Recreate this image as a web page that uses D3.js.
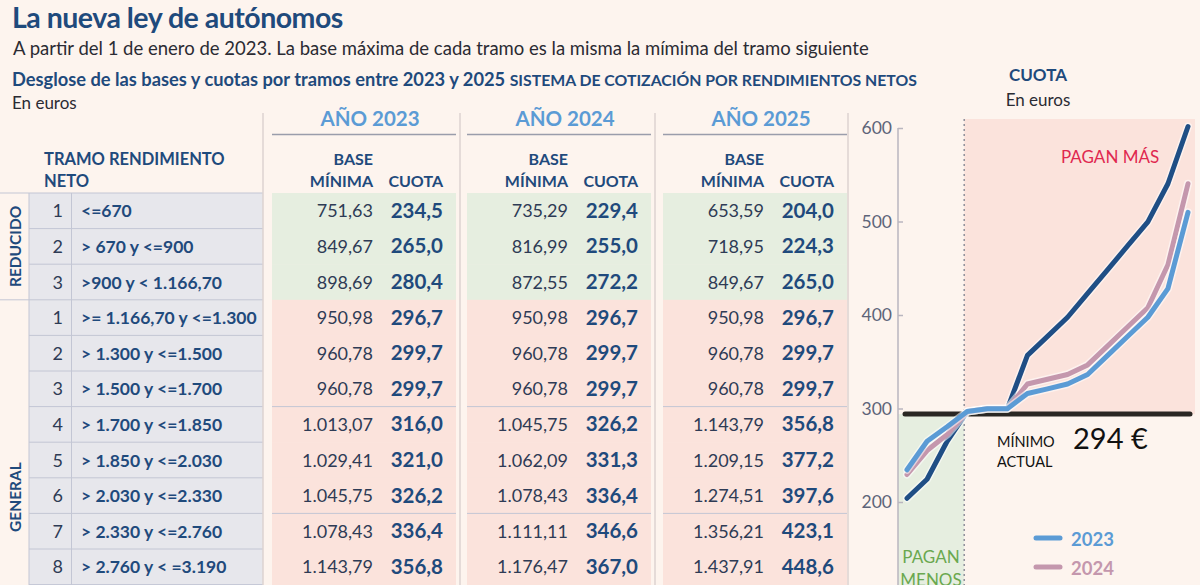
<!DOCTYPE html>
<html>
<head>
<meta charset="utf-8">
<script src="https://cdn.jsdelivr.net/npm/d3@7"></script>
<style>
  html, body { margin: 0; padding: 0; background: #fdf4ee; }
  svg { display: block; font-family: Lato, "Open Sans", sans-serif; }
</style>
</head>
<body>
<svg id="chart" width="1200" height="585"></svg>
<script>
// ---------------- DATA ----------------
const groups = ["REDUCIDO", "GENERAL"];
const tramoGroup = ["REDUCIDO","REDUCIDO","REDUCIDO","GENERAL","GENERAL","GENERAL","GENERAL","GENERAL","GENERAL","GENERAL","GENERAL","GENERAL","GENERAL","GENERAL","GENERAL"];
const tramoNum = [1,2,3,1,2,3,4,5,6,7,8,9,10,11,12];
const tramoLabel = ["<=670", "> 670 y <=900", ">900 y < 1.166,70", ">= 1.166,70 y <=1.300", "> 1.300 y <=1.500",
  "> 1.500 y <=1.700", "> 1.700 y <=1.850", "> 1.850 y <=2.030", "> 2.030 y <=2.330", "> 2.330 y <=2.760",
  "> 2.760 y < =3.190", "> 3.190 y <=3.620", "> 3.620 y <=4.050", "> 4.050 y <=6.000", "> 6.000"];
const years = ["2023", "2024", "2025"];
const base2023 = ["751,63","849,67","898,69","950,98","960,78","960,78","1.013,07","1.029,41","1.045,75","1.078,43","1.143,79","1.209,15","1.274,51","1.372,55","1.633,99"];
const base2024 = ["735,29","816,99","872,55","950,98","960,78","960,78","1.045,75","1.062,09","1.078,43","1.111,11","1.176,47","1.241,83","1.307,19","1.454,25","1.732,03"];
const base2025 = ["653,59","718,95","849,67","950,98","960,78","960,78","1.143,79","1.209,15","1.274,51","1.356,21","1.437,91","1.519,61","1.601,31","1.732,03","1.928,10"];
const cuota2023 = [234.5,265.0,280.4,296.7,299.7,299.7,316.0,321.0,326.2,336.4,356.8,377.3,397.6,428.2,509.8];
const cuota2024 = [229.4,255.0,272.2,296.7,299.7,299.7,326.2,331.3,336.4,346.6,367.0,387.4,407.8,453.7,540.4];
const cuota2025 = [204.0,224.3,265.0,296.7,299.7,299.7,356.8,377.2,397.6,423.1,448.6,474.1,499.6,540.4,601.6];
const yTicks = [200, 300, 400, 500, 600];
const minimoActual = 294;

// ---------------- STYLE ----------------
const W = 1200, H = 585;
const C = {
  bg: "#fdf4ee", navy: "#1f4a7c", text: "#2e3b55", light: "#5b9bd5",
  green: "#e6eee0", pink: "#fbe3dc", grey: "#e7e7ec", rule: "#c3c6d4", sep: "#ddd3d1",
  c2023: "#5b9bd5", c2024: "#c497ad", c2025: "#1f4e85", red: "#e0284f", greenTxt: "#6aa84f"
};
const fmt = v => d3.format(".1f")(v).replace(".", ",");

const svg = d3.select("#chart");

// ---------------- TITLES ----------------
svg.append("text").attr("x", 12).attr("y", 28).attr("font-size", 28.5).attr("font-weight", 700)
  .attr("fill", C.navy).attr("letter-spacing", -0.5).text("La nueva ley de autónomos");
svg.append("text").attr("x", 13).attr("y", 55).attr("font-size", 18.5).attr("fill", "#2b2b33")
  .text("A partir del 1 de enero de 2023. La base máxima de cada tramo es la misma la mímima del tramo siguiente");
const sub = svg.append("text").attr("x", 12).attr("y", 86).attr("font-weight", 700).attr("fill", C.navy);
sub.append("tspan").attr("font-size", 18.3).text("Desglose de las bases y cuotas por tramos entre 2023 y 2025 ");
sub.append("tspan").attr("font-size", 15.8).text("SISTEMA DE COTIZACIÓN POR RENDIMIENTOS NETOS");
svg.append("text").attr("x", 12).attr("y", 109).attr("font-size", 17).attr("fill", "#2b2b33").text("En euros");

// ---------------- TABLE ----------------
const rowY = d3.scaleBand().domain(d3.range(tramoLabel.length)).range([193, 193 + 35.6 * tramoLabel.length]);
const rh = rowY.bandwidth();
const visible = d3.range(tramoLabel.length).filter(i => rowY(i) + rh <= H + 2);

svg.append("rect").attr("x", 29).attr("y", 193).attr("width", 234).attr("height", rh * tramoLabel.length).attr("fill", C.grey);

const blockX = { "2023": 272, "2024": 467, "2025": 663 };
const blockW = 184;
const baseArr = { "2023": base2023, "2024": base2024, "2025": base2025 };
const cuotaArr = { "2023": cuota2023, "2024": cuota2024, "2025": cuota2025 };

years.forEach(yr => {
  const x0 = blockX[yr];
  svg.append("g").selectAll("rect").data(tramoLabel).join("rect")
    .attr("x", x0).attr("y", (d, i) => rowY(i)).attr("width", blockW).attr("height", rh + 0.5)
    .attr("fill", (d, i) => tramoGroup[i] === "REDUCIDO" ? C.green : C.pink);
  svg.append("g").selectAll("line").data([6, 9, 12]).join("line")
    .attr("x1", x0).attr("x2", x0 + blockW).attr("y1", i => rowY(i)).attr("y2", i => rowY(i))
    .attr("stroke", C.rule).attr("stroke-width", 1);
  svg.append("text").attr("x", x0 + 98).attr("y", 126).attr("text-anchor", "middle")
    .attr("font-size", 20.5).attr("font-weight", 700).attr("fill", C.light).text("AÑO " + yr);
  svg.append("line").attr("x1", x0).attr("x2", x0 + blockW).attr("y1", 134.5).attr("y2", 134.5)
    .attr("stroke", "#9a9dab").attr("stroke-width", 1.5);
  const hdr = svg.append("g").attr("font-size", 16).attr("font-weight", 700).attr("fill", C.navy);
  hdr.append("text").attr("x", x0 + 101).attr("y", 165).attr("text-anchor", "end").text("BASE");
  hdr.append("text").attr("x", x0 + 101).attr("y", 187).attr("text-anchor", "end").text("MÍNIMA");
  hdr.append("text").attr("x", x0 + 171).attr("y", 187).attr("text-anchor", "end").text("CUOTA");
  svg.append("g").selectAll("text").data(visible).join("text")
    .attr("x", x0 + 101).attr("y", i => rowY(i) + rh / 2 + 6.5).attr("text-anchor", "end")
    .attr("font-size", 18).attr("font-weight", 400).attr("fill", C.text).text(i => baseArr[yr][i]);
  svg.append("g").selectAll("text").data(visible).join("text")
    .attr("x", x0 + 171).attr("y", i => rowY(i) + rh / 2 + 7).attr("text-anchor", "end")
    .attr("font-size", 20.5).attr("font-weight", 700).attr("fill", C.navy).text(i => fmt(cuotaArr[yr][i]));
});

svg.append("g").selectAll("line").data(d3.range(tramoLabel.length + 1)).join("line")
  .attr("x1", i => (i === 0 || i === 3) ? 0 : 29).attr("x2", 263)
  .attr("y1", i => 193 + i * rh).attr("y2", i => 193 + i * rh)
  .attr("stroke", C.rule).attr("stroke-width", 1);
svg.append("line").attr("x1", 29).attr("x2", 29).attr("y1", 193).attr("y2", 193 + rh * 15).attr("stroke", C.rule);
svg.append("line").attr("x1", 71.5).attr("x2", 71.5).attr("y1", 193).attr("y2", 193 + rh * 15).attr("stroke", C.rule);

svg.append("g").selectAll("text").data(visible).join("text")
  .attr("x", 63).attr("y", i => rowY(i) + rh / 2 + 6.5).attr("text-anchor", "end")
  .attr("font-size", 18).attr("fill", C.text).text(i => tramoNum[i]);
svg.append("g").selectAll("text").data(visible).join("text")
  .attr("x", 81).attr("y", i => rowY(i) + rh / 2 + 6.5)
  .attr("font-size", 17.5).attr("font-weight", 700).attr("fill", C.navy).text(i => tramoLabel[i]);

svg.append("text").attr("x", 44).attr("y", 165).attr("font-size", 16.5).attr("font-weight", 700).attr("fill", C.navy).text("TRAMO RENDIMIENTO");
svg.append("text").attr("x", 44).attr("y", 187).attr("font-size", 16.5).attr("font-weight", 700).attr("fill", C.navy).text("NETO");

const groupCenter = { "REDUCIDO": rowY(0) + rh * 1.5, "GENERAL": 497 };
groups.forEach(g => {
  svg.append("text").attr("transform", `translate(21,${groupCenter[g]}) rotate(-90)`)
    .attr("text-anchor", "middle").attr("font-size", 15.5).attr("font-weight", 700)
    .attr("fill", C.navy).text(g);
});

[263, 460, 655, 848].forEach(x => {
  svg.append("line").attr("x1", x).attr("x2", x).attr("y1", 113).attr("y2", H)
    .attr("stroke", C.sep).attr("stroke-width", 1.5);
});

// ---------------- LINE CHART ----------------
const x = d3.scalePoint().domain(d3.range(cuota2023.length)).range([907, 1188]);
const y = d3.scaleLinear().domain([200, 600]).range([502, 128]);
const xAxis0 = 898;
const splitX = x(3) - 3;
const yMin = y(minimoActual);

svg.append("rect").attr("x", splitX).attr("y", 119).attr("width", 1195 - splitX).attr("height", yMin - 119).attr("fill", C.pink);
svg.append("rect").attr("x", xAxis0).attr("y", yMin).attr("width", splitX - xAxis0).attr("height", H - yMin).attr("fill", C.green);
svg.append("line").attr("x1", splitX).attr("x2", splitX).attr("y1", 119).attr("y2", H)
  .attr("stroke", "#8f8f9a").attr("stroke-width", 1.5).attr("stroke-dasharray", "2,3");

const axis = svg.append("g").attr("transform", `translate(${xAxis0},0)`)
  .call(d3.axisRight(y).tickValues(yTicks).tickSize(5).tickFormat(d3.format("d")));
axis.select(".domain").attr("d", `M0,${y(600)}V${H}`).attr("stroke", "#b9b6bf").attr("stroke-width", 1.5);
axis.selectAll(".tick line").attr("stroke", "#b9b6bf").attr("stroke-width", 1.5);
axis.selectAll(".tick text").attr("x", -6).attr("text-anchor", "end").attr("font-size", 17.5)
  .attr("fill", "#5d6479").attr("font-family", "Lato, sans-serif");

svg.append("text").attr("x", 1038).attr("y", 81).attr("text-anchor", "middle").attr("font-size", 17)
  .attr("font-weight", 700).attr("fill", C.navy).text("CUOTA");
svg.append("text").attr("x", 1038).attr("y", 106).attr("text-anchor", "middle").attr("font-size", 17)
  .attr("fill", "#2b2b33").text("En euros");

svg.append("line").attr("x1", 905).attr("x2", 1190).attr("y1", yMin).attr("y2", yMin)
  .attr("stroke", "#2a2723").attr("stroke-width", 5).attr("stroke-linecap", "round");

const line = d3.line().x((d, i) => x(i)).y(d => y(d));
const series = [
  { name: "2025", values: cuota2025, color: C.c2025 },
  { name: "2024", values: cuota2024, color: C.c2024 },
  { name: "2023", values: cuota2023, color: C.c2023 }
];
series.forEach(s => {
  svg.append("path").attr("d", line(s.values)).attr("fill", "none")
    .attr("stroke", "rgba(255,255,255,0.55)").attr("stroke-width", 8).attr("stroke-linejoin", "round").attr("stroke-linecap", "round");
  svg.append("path").attr("d", line(s.values)).attr("fill", "none")
    .attr("stroke", s.color).attr("stroke-width", 5).attr("stroke-linejoin", "round").attr("stroke-linecap", "round");
});

svg.append("text").attr("x", 1061).attr("y", 163).attr("font-size", 17).attr("fill", C.red).text("PAGAN MÁS");
svg.append("text").attr("x", 997).attr("y", 447).attr("font-size", 14.5).attr("fill", "#111").text("MÍNIMO");
svg.append("text").attr("x", 997).attr("y", 467).attr("font-size", 14.5).attr("fill", "#111").text("ACTUAL");
svg.append("text").attr("x", 1073).attr("y", 449).attr("font-size", 29).attr("fill", "#111").text(minimoActual + " €");
svg.append("text").attr("x", 931).attr("y", 563).attr("text-anchor", "middle").attr("font-size", 17).attr("fill", C.greenTxt).text("PAGAN");
svg.append("text").attr("x", 931).attr("y", 586).attr("text-anchor", "middle").attr("font-size", 17).attr("fill", C.greenTxt).text("MENOS");

const legend = svg.append("g");
[...series].reverse().forEach((s, i) => {
  const ly = 538 + i * 29;
  if (ly > H) return;
  legend.append("line").attr("x1", 1036).attr("x2", 1060).attr("y1", ly).attr("y2", ly)
    .attr("stroke", s.color).attr("stroke-width", 5).attr("stroke-linecap", "round");
  legend.append("text").attr("x", 1071).attr("y", ly + 8).attr("font-size", 18.5).attr("font-weight", 700)
    .attr("fill", s.color).text(s.name);
});
</script>
</body>
</html>
